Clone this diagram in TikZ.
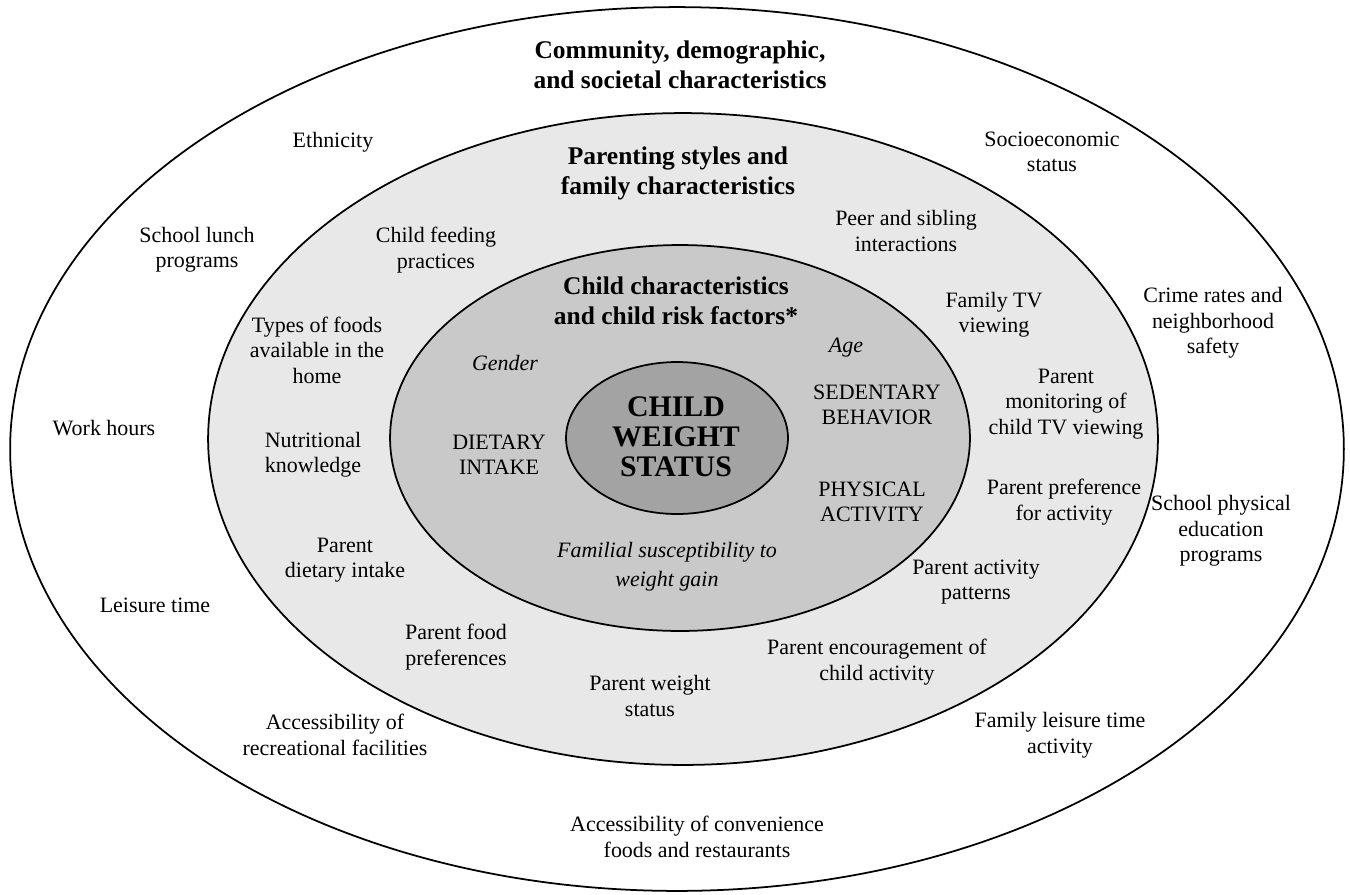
\documentclass[tikz, border = 0pt]{standalone}
\usepackage{fontspec}
\setmainfont{Liberation Serif}

\definecolor{ringfamily}{gray}{0.91}
\definecolor{ringchild}{gray}{0.79}
\definecolor{ringcore}{gray}{0.64}

\tikzset{ring/.style = {draw = black, line width = 1pt}} % Контур колец
\tikzset{factor/.style = {align = center, font = \fontsize{12.5}{14.5}\selectfont}} % Обычный текст
\tikzset{slanted factor/.style = {align = center, font = \fontsize{12.5}{16.5}\selectfont\itshape}} % Курсив
\tikzset{heading/.style = {align = center, font = \fontsize{14.5}{17}\selectfont\bfseries}} % Заголовки колец
\tikzset{core/.style = {align = center, font = \fontsize{17}{17}\selectfont\bfseries}} % Центр

\begin{document}
\begin{tikzpicture}[x = 0.02cm, y = -0.02cm]
        \useasboundingbox (0, 0) rectangle (1350, 894); % Поля как в оригинале

        \draw [ring, fill = white] (677, 449) ellipse (13.34cm and 8.84cm); % Внешнее кольцо
        \draw [ring, fill = ringfamily] (683, 439) ellipse (9.5cm and 6.52cm); % Семья
        \draw [ring, fill = ringchild] (680, 438) ellipse (5.8cm and 3.86cm); % Ребёнок
        \draw [ring, fill = ringcore] (677, 438) ellipse (2.22cm and 1.52cm); % Вес ребёнка

        % Заголовки
        \node [heading] (community) at (680, 65) {Community, demographic,\\and societal characteristics};
        \node [heading] (parenting) at (678, 173) {Parenting styles and\\family characteristics};
        \node [heading] (childchar) at (676, 301) {Child characteristics\\and child risk factors*};
        \node [core] (weight) at (676, 437) {CHILD\\WEIGHT\\STATUS};

        % Внешнее кольцо
        \node [factor] (ethnicity) at (333, 142) {Ethnicity};
        \node [factor] (socioeconomic) at (1052, 152) {Socioeconomic\\status};
        \node [factor] (lunch) at (197, 250) {School lunch\\programs};
        \node [factor] (crime) at (1213, 323) {Crime rates and\\neighborhood\\safety};
        \node [factor] (workhours) at (104, 428) {Work hours};
        \node [factor] (schoolpe) at (1221, 531) {School physical\\education\\programs};
        \node [factor] (leisure) at (155, 605) {Leisure time};
        \node [factor] (recreation) at (335, 735) {Accessibility of\\recreational facilities};
        \node [factor] (familyleisure) at (1060, 735) {Family leisure time\\activity};
        \node [factor] (convenience) at (697, 837) {Accessibility of convenience\\foods and restaurants};

        % Кольцо семьи
        \node [factor] (feeding) at (436, 250) {Child feeding\\practices};
        \node [factor] (peer) at (906, 231) {Peer and sibling\\interactions};
        \node [factor] (familytv) at (994, 315) {Family TV\\viewing};
        \node [factor] (foods) at (317, 350) {Types of foods\\available in the\\home};
        \node [factor] (monitoring) at (1066, 404) {Parent\\monitoring of\\child TV viewing};
        \node [factor] (knowledge) at (313, 455) {Nutritional\\knowledge};
        \node [factor] (preference) at (1064, 502) {Parent preference\\for activity};
        \node [factor] (parentdiet) at (345, 560) {Parent\\dietary intake};
        \node [factor] (parentactivity) at (976, 582) {Parent activity\\patterns};
        \node [factor] (foodpref) at (456, 647) {Parent food\\preferences};
        \node [factor] (encouragement) at (877, 662) {Parent encouragement of\\child activity};
        \node [factor] (parentweight) at (650, 696) {Parent weight\\status};

        % Кольцо ребёнка
        \node [slanted factor] (gender) at (505, 363) {Gender};
        \node [slanted factor] (age) at (846, 348) {Age};
        \node [factor] (sedentary) at (877, 405) {SEDENTARY\\BEHAVIOR};
        \node [factor] (dietary) at (499, 455) {DIETARY\\INTAKE};
        \node [factor] (physical) at (872, 502) {PHYSICAL\\ACTIVITY};
        \node [slanted factor] (familial) at (667, 567) {Familial susceptibility to\\weight gain};
    \end{tikzpicture}
\end{document}
